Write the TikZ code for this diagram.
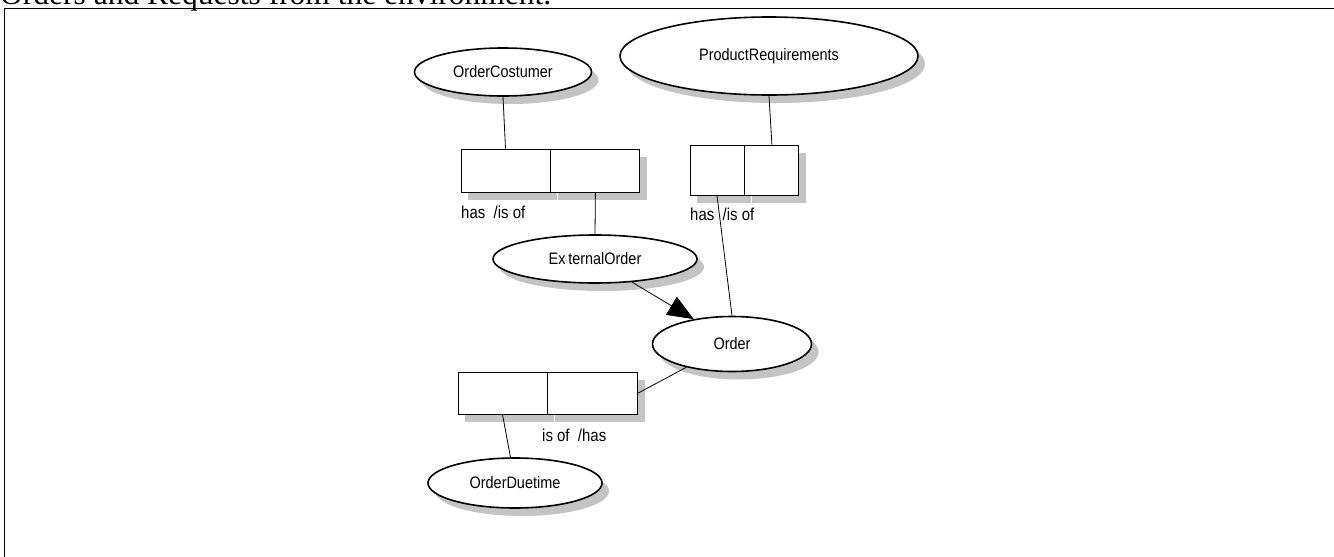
\documentclass[tikz,border=0pt]{standalone}
\usepackage{fontspec}
\setmainfont{Liberation Sans}
\newfontfamily\lblfont[FakeStretch=0.87]{Liberation Sans}
\newfontfamily\captionfont{Liberation Serif}
\usetikzlibrary{shapes.geometric,shadows,arrows.meta}
\definecolor{shade}{RGB}{196,196,196}
\tikzset{
  boxshadow/.style={drop shadow={shadow xshift=7pt, shadow yshift=-8pt, fill=shade, opacity=1}},
  ent/.style={ellipse, draw, line width=1.6pt, fill=white, inner sep=0pt,
    font=\lblfont\fontsize{16.6}{18}\selectfont, boxshadow},
  half/.style={rectangle, draw, line width=0.9pt, fill=white, inner sep=0pt, boxshadow},
  link/.style={line width=0.8pt},
  lab/.style={font=\lblfont\fontsize{17.2}{19}\selectfont, inner sep=0pt, anchor=west},
}
\begin{document}
\begin{tikzpicture}[x=1pt, y=-1pt]
\useasboundingbox (0,0) rectangle (1334,557);
\fill[white] (0,0) rectangle (1334,557);

% section heading, mostly above the page edge
\node[anchor=base west, inner sep=0pt, font=\captionfont\fontsize{31.5}{36}\selectfont]
  (heading) at (0,4.5) {Orders and Requests from the environment.};

% frame
\draw[line width=1.5pt] (4.5,557) -- (4.5,8.5) -- (1334,8.5);

% entities
\node[ent, minimum width=177pt, minimum height=48pt] (oc) at (503,72) {OrderCostumer};
\node[ent, minimum width=298pt, minimum height=78pt] (pr) at (769,56) {ProductRequirements};
\node[ent, minimum width=204pt, minimum height=48pt] (eo) at (595,259) {Ex\,ternalOrder};
\node[ent, minimum width=159pt, minimum height=55pt] (ord) at (732,344) {Order};
\node[ent, minimum width=174pt, minimum height=50pt] (od) at (515,483) {OrderDuetime};

% relationship boxes
\node[half, minimum width=89pt, minimum height=43pt] (b1l) at (505.5,170.5) {};
\node[half, minimum width=89pt, minimum height=43pt, anchor=west] (b1r) at (b1l.east) {};
\node[half, minimum width=54pt, minimum height=50pt] (b2l) at (717,170) {};
\node[half, minimum width=54pt, minimum height=50pt, anchor=west] (b2r) at (b2l.east) {};
\node[half, minimum width=89pt, minimum height=42pt] (b3l) at (502.5,393) {};
\node[half, minimum width=90pt, minimum height=42pt, anchor=west] (b3r) at (b3l.east) {};

% role labels
\node[lab] (l1) at (461,212) {has\ \ /is of};
\node[lab] (l2) at (690,214) {has\ \ /is of};
\node[lab] (l3) at (542,435) {is of\ \ /has};

% connectors
\draw[link] (oc.south) -- (b1l.north);
\draw[link] (b1r.south) -- (eo.north);
\draw[link] (pr.south) -- (b2r.north);
\draw[link] (b2l.south) -- (ord.north);
\draw[link, -{Triangle[length=26pt, width=21pt]}] (eo.328) -- (ord.147);
\draw[link] (ord.207) -- (b3r.east);
\draw[link] (b3l.south) -- (od.100);
\end{tikzpicture}
\end{document}
